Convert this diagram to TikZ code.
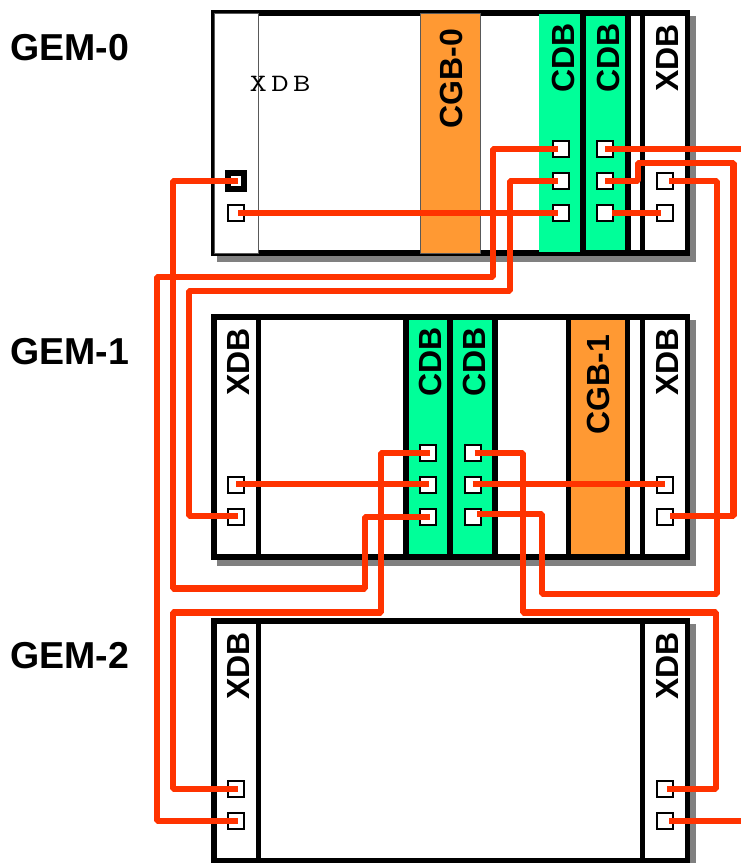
\documentclass[tikz,border=0pt]{standalone}
\usepackage{fontspec}
\setmainfont{Liberation Sans}
\definecolor{wirecol}{HTML}{FF3300}
\definecolor{cdbgreen}{HTML}{00FF99}
\definecolor{cgborange}{HTML}{FF9933}
\definecolor{shadowgrey}{HTML}{808080}
\tikzset{
  x=1pt,y=-1pt,
  shadowbox/.style={fill=shadowgrey,draw=none},
  frame/.style={draw=black,line width=5.8pt,fill=white,line join=miter},
  divider/.style={draw=black,line width=5.4pt},
  greenfill/.style={fill=cdbgreen,draw=none},
  orangefill/.style={fill=cgborange,draw=none},
  thinbox/.style={draw=black!65,line width=0.7pt},
  port/.style={draw=black,fill=white,line width=2pt,minimum size=16pt,inner sep=0pt,outer sep=0pt,rectangle},
  hotport/.style={port,line width=5.5pt},
  wire/.style={draw=wirecol,line width=6.4pt,line join=bevel,line cap=butt},
  vlabel/.style={rotate=90,font=\fontsize{32}{32}\selectfont\bfseries,inner sep=0pt,text height=23pt,text depth=0pt},
  gemlabel/.style={anchor=west,font=\fontsize{37.5}{37.5}\selectfont\bfseries,inner sep=0pt,text height=27pt,text depth=0pt},
  thinlabel/.style={xscale=1.35,font=\fontsize{25}{25}\selectfont\ttfamily,inner sep=0pt,text height=15pt,text depth=0pt}
}
\begin{document}
\begin{tikzpicture}
\clip (0,0) rectangle (741,863);
\fill[white] (0,0) rectangle (741,863);

% ---------- GEM-0
\fill[shadowgrey] (217,16) rectangle (696,262);
\path[frame] (214,13) rectangle (687.5,253);
\path[orangefill,thinbox] (420.8,13) rectangle (480,253);
\path[greenfill] (539.3,13.5) rectangle (581,252);
\path[greenfill] (585,15.7) rectangle (626,250);
\path[thinbox,fill=white] (214,13) rectangle (258.5,253);
\draw[divider] (583,13) -- (583,253);
\draw[divider] (628,13) -- (628,253);
\draw[divider] (642.5,13) -- (642.5,253);

% ---------- GEM-1
\fill[shadowgrey] (217,320) rectangle (696,566);
\path[frame] (214,317) rectangle (687.5,557);
\path[greenfill] (406,320) rectangle (495,554);
\path[orangefill] (568.7,320) rectangle (627.7,554);
\draw[divider] (258.7,317) -- (258.7,557);
\draw[divider] (406,317) -- (406,557);
\draw[divider] (450,317) -- (450,557);
\draw[divider] (495,317) -- (495,557);
\draw[divider] (568.7,317) -- (568.7,557);
\draw[divider] (627.7,317) -- (627.7,557);
\draw[divider] (642.5,317) -- (642.5,557);

% ---------- GEM-2
\fill[shadowgrey] (217,624) rectangle (696,870);
\path[frame] (214,621) rectangle (687.5,861);
\draw[divider] (258.7,621) -- (258.7,861);
\draw[divider] (642.5,621) -- (642.5,861);

% ---------- labels
\node[gemlabel] (gem0) at (10,47) {GEM-0};
\node[gemlabel] (gem1) at (10,351) {GEM-1};
\node[gemlabel] (gem2) at (10,655) {GEM-2};

\node[thinlabel] (xdb0a) at (280,84) {X\hspace{3.2pt}D\hspace{3.2pt}B};
\node[vlabel] (cgb0) at (451,78.5) {CGB-0};
\node[vlabel] (cdb0a) at (563,58) {CDB};
\node[vlabel] (cdb0b) at (608,58) {CDB};
\node[vlabel] (xdb0b) at (667,58) {XDB};

\node[vlabel] (xdb1a) at (238,362) {XDB};
\node[vlabel] (cdb1a) at (430,362) {CDB};
\node[vlabel] (cdb1b) at (474,362) {CDB};
\node[vlabel] (cgb1) at (598,384.5) {CGB-1};
\node[vlabel] (xdb1b) at (667,362) {XDB};

\node[vlabel] (xdb2a) at (238,666) {XDB};
\node[vlabel] (xdb2b) at (667,666) {XDB};

% ---------- ports
\node[hotport] (a1) at (236,181) {};
\node[port] (a2) at (236,213) {};
\node[port] (b1) at (561,149) {};
\node[port] (b2) at (561,181) {};
\node[port] (b3) at (561,213) {};
\node[port] (c1) at (605,149) {};
\node[port] (c2) at (605,181) {};
\node[port] (c3) at (605,213) {};
\node[port] (d1) at (665,181) {};
\node[port] (d2) at (665,213) {};

\node[port] (e1) at (236,485) {};
\node[port] (e2) at (236,517) {};
\node[port] (f1) at (428,453) {};
\node[port] (f2) at (428,485) {};
\node[port] (f3) at (428,517) {};
\node[port] (g1) at (472.7,453) {};
\node[port] (g2) at (472.7,485) {};
\node[port] (g3) at (472.7,517) {};
\node[port] (h1) at (665,485) {};
\node[port] (h2) at (665,517) {};

\node[port] (i1) at (236,789) {};
\node[port] (i2) at (236,821) {};
\node[port] (j1) at (665,789) {};
\node[port] (j2) at (665,821) {};

\coordinate (outa) at (741,149);
\coordinate (outb) at (741,821);

% ---------- wires
\draw[wire] ([xshift=2pt]a1.center) -- (173,181) -- (173,588.5) -- (365,588.5) -- (365,517) -- ([xshift=2pt]f3.center);
\draw[wire] ([xshift=2pt]a2.center) -- ([xshift=-3pt]b3.center);
\draw[wire] ([xshift=-3pt]b1.center) -- (493,149) -- (493,277) -- (157,277) -- (157,821) -- ([xshift=2pt]i2.center);
\draw[wire] ([xshift=-3pt]b2.center) -- (510,181) -- (510,291) -- (189,291) -- (189,516) -- ([xshift=2pt,yshift=1pt]e2.center);
\draw[wire] (c1.center) -- (outa);
\draw[wire] (c2.center) -- (638,181) -- (638,163) -- (733.3,163) -- (733.3,516) -- ([xshift=5pt,yshift=1pt]h2.center);
\draw[wire] ([xshift=7pt]c3.center) -- ([xshift=-4pt]d2.center);
\draw[wire] ([xshift=4pt]d1.center) -- (717,181) -- (717,594) -- (541.7,594) -- (541.7,514) -- ([xshift=4pt,yshift=3pt]g3.center);
\draw[wire] ([xshift=2pt]f1.center) -- (381,453) -- (381,612.5) -- (173,612.5) -- (173,789) -- ([xshift=2pt]i1.center);
\draw[wire] ([yshift=1pt]e1.center) -- ([xshift=1pt,yshift=1pt]f2.center);
\draw[wire] ([xshift=2pt]g1.center) -- (523,453) -- (523,612.5) -- (716,612.5) -- (716,789) -- ([xshift=2pt]j1.center);
\draw[wire] ([yshift=1pt]g2.center) -- ([yshift=1pt]h1.center);
\draw[wire] ([xshift=4pt]j2.center) -- (outb);
\end{tikzpicture}
\end{document}
